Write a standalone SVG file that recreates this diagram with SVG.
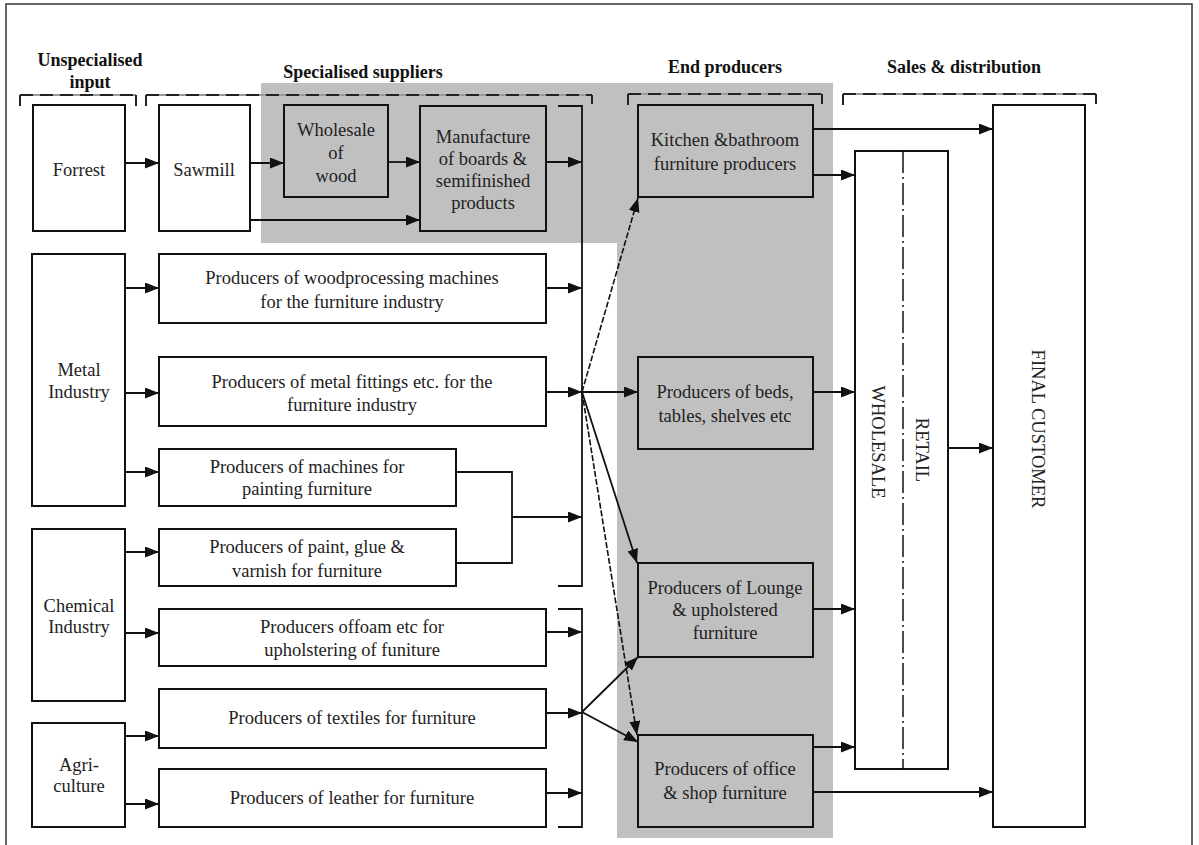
<svg xmlns="http://www.w3.org/2000/svg" width="1199" height="845" viewBox="0 0 1199 845">
<style>
.bx{stroke:#111;stroke-width:2;fill:#fff}
.gb{stroke:#111;stroke-width:2;fill:#c0c0c0}
.t{font-family:"Liberation Serif","Times New Roman",serif;font-size:18.5px;fill:#222;text-anchor:middle}
.h{font-family:"Liberation Serif","Times New Roman",serif;font-size:18px;font-weight:bold;fill:#111;text-anchor:middle}
.c{stroke:#111;stroke-width:1.8;fill:none}
.a{stroke:#111;stroke-width:1.8;fill:none;marker-end:url(#ah)}
.ad{stroke:#111;stroke-width:1.6;fill:none;stroke-dasharray:6,2;marker-end:url(#ah)}
.dg{stroke:#9a9a9a;stroke-width:2;fill:none}
.dk{stroke:#222;stroke-width:2;fill:none;stroke-dasharray:13,7}
.tk{stroke:#222;stroke-width:2;fill:none}
</style>
<defs>
<marker id="ah" viewBox="0 0 14 11" refX="14" refY="5.5" markerWidth="14" markerHeight="11" markerUnits="userSpaceOnUse" orient="auto"><path d="M0,0 L14,5.5 L0,11 z" fill="#111"/></marker>
</defs>
<rect x="0" y="0" width="1199" height="845" fill="#fff"/>
<rect x="6" y="4" width="1186" height="880" fill="none" stroke="#333" stroke-width="1.5"/>
<path d="M261,83 H833 V838 H617 V243 H261 Z" fill="#c0c0c0"/>

<g id="headers">
<text class="h" x="90" y="66">Unspecialised</text>
<text class="h" x="90" y="88">input</text>
<text class="h" x="363" y="78">Specialised suppliers</text>
<text class="h" x="725" y="73">End producers</text>
<text class="h" x="964" y="73">Sales &amp; distribution</text>
<path class="dg" d="M20,95 H136 M146,95 H592 M628,94 H822 M843,94 H1096"/>
<path class="dk" d="M20,95 H136 M146,95 H592 M628,94 H822 M843,94 H1096"/>
<path class="tk" d="M20,95 V106 M136,95 V106 M146,95 V106 M592,95 V104 M628,94 V105 M822,94 V104 M843,94 V105 M1096,94 V104"/>
</g>

<g id="connectors">
<path class="a" d="M125,163 H159"/>
<path class="a" d="M250,163 H284"/>
<path class="a" d="M388,162 H420"/>
<path class="a" d="M250,220 H420"/>
<path class="a" d="M546,162 H582"/>
<path class="c" d="M558,106 H582 V586 H558"/>
<path class="c" d="M558,609 H582 V827 H558"/>
<path class="a" d="M125,288 H159"/>
<path class="a" d="M125,393 H159"/>
<path class="a" d="M125,472 H159"/>
<path class="a" d="M125,552 H159"/>
<path class="a" d="M125,633 H159"/>
<path class="a" d="M125,736 H159"/>
<path class="a" d="M125,804 H159"/>
<path class="a" d="M546,288 H582"/>
<path class="a" d="M546,392 H582"/>
<path class="c" d="M456,472 H512 V563 H456"/>
<path class="a" d="M512,517 H582"/>
<path class="a" d="M546,632 H582"/>
<path class="a" d="M546,713 H582"/>
<path class="a" d="M546,793 H582"/>
<path class="ad" d="M582,392 L638,198"/>
<path class="a" d="M582,392 H638"/>
<path class="a" d="M582,392 L637,563"/>
<path class="ad" d="M582,392 L637,735"/>
<path class="a" d="M582,712 L638,657"/>
<path class="a" d="M582,712 L638,742"/>
<path class="a" d="M813,129 H993"/>
<path class="a" d="M813,175 H855"/>
<path class="a" d="M813,392 H855"/>
<path class="a" d="M813,609 H855"/>
<path class="a" d="M813,747 H855"/>
<path class="a" d="M813,792 H993"/>
<path class="a" d="M948,448 H993"/>
</g>

<g id="forrest"><rect class="bx" x="33" y="105" width="92" height="126"/><text class="t" x="79" y="176">Forrest</text></g>
<g id="sawmill"><rect class="bx" x="159" y="105" width="91" height="126"/><text class="t" x="204" y="176">Sawmill</text></g>
<g id="wholesale-wood"><rect class="gb" x="284" y="105" width="104" height="92"/><text class="t" x="336" y="136">Wholesale</text><text class="t" x="336" y="159">of</text><text class="t" x="336" y="182">wood</text></g>
<g id="manufacture"><rect class="gb" x="420" y="106" width="126" height="125"/><text class="t" x="483" y="143">Manufacture</text><text class="t" x="483" y="165">of boards &amp;</text><text class="t" x="483" y="187">semifinished</text><text class="t" x="483" y="209">products</text></g>

<g id="metal"><rect class="bx" x="32" y="254" width="93" height="252"/><text class="t" x="79" y="376">Metal</text><text class="t" x="79" y="398">Industry</text></g>
<g id="woodproc"><rect class="bx" x="159" y="254" width="387" height="69"/><text class="t" x="352" y="284">Producers of woodprocessing machines</text><text class="t" x="352" y="308">for the furniture industry</text></g>
<g id="fittings"><rect class="bx" x="159" y="357" width="387" height="69"/><text class="t" x="352" y="388">Producers of metal fittings etc. for the</text><text class="t" x="352" y="411">furniture industry</text></g>
<g id="painting-machines"><rect class="bx" x="159" y="449" width="297" height="57"/><text class="t" x="307" y="473">Producers of machines for</text><text class="t" x="307" y="495">painting furniture</text></g>
<g id="paint"><rect class="bx" x="159" y="529" width="297" height="57"/><text class="t" x="307" y="553">Producers of paint, glue &amp;</text><text class="t" x="307" y="577">varnish for furniture</text></g>
<g id="chemical"><rect class="bx" x="32" y="529" width="93" height="172"/><text class="t" x="79" y="612">Chemical</text><text class="t" x="79" y="633">Industry</text></g>
<g id="foam"><rect class="bx" x="159" y="609" width="387" height="57"/><text class="t" x="352" y="633">Producers offoam etc  for</text><text class="t" x="352" y="656">upholstering of funiture</text></g>
<g id="textiles"><rect class="bx" x="159" y="689" width="387" height="59"/><text class="t" x="352" y="724">Producers of textiles for furniture</text></g>
<g id="agri"><rect class="bx" x="32" y="723" width="93" height="104"/><text class="t" x="79" y="771">Agri-</text><text class="t" x="79" y="792">culture</text></g>
<g id="leather"><rect class="bx" x="159" y="769" width="387" height="58"/><text class="t" x="352" y="804">Producers of leather for furniture</text></g>

<g id="kitchen"><rect class="gb" x="638" y="105" width="175" height="92"/><text class="t" x="725" y="146">Kitchen &amp;bathroom</text><text class="t" x="725" y="170">furniture producers</text></g>
<g id="beds"><rect class="gb" x="638" y="357" width="175" height="92"/><text class="t" x="725" y="398">Producers of beds,</text><text class="t" x="725" y="422">tables, shelves etc</text></g>
<g id="lounge"><rect class="gb" x="638" y="563" width="175" height="94"/><text class="t" x="725" y="594">Producers of Lounge</text><text class="t" x="725" y="616">&amp; upholstered</text><text class="t" x="725" y="639">furniture</text></g>
<g id="office"><rect class="gb" x="638" y="735" width="175" height="92"/><text class="t" x="725" y="775">Producers of office</text><text class="t" x="725" y="799">&amp; shop furniture</text></g>

<g id="wholesale-retail"><rect class="bx" x="855" y="151" width="93" height="618"/><path d="M903,151 V769" stroke="#111" stroke-width="1.5" stroke-dasharray="22,4,2,4"/>
<text class="t" transform="translate(872,442) rotate(90)">WHOLESALE</text>
<text class="t" transform="translate(916,450) rotate(90)">RETAIL</text></g>
<g id="final-customer"><rect class="bx" x="993" y="105" width="92" height="722"/><text class="t" transform="translate(1032,429) rotate(90)">FINAL CUSTOMER</text></g>
</svg>
